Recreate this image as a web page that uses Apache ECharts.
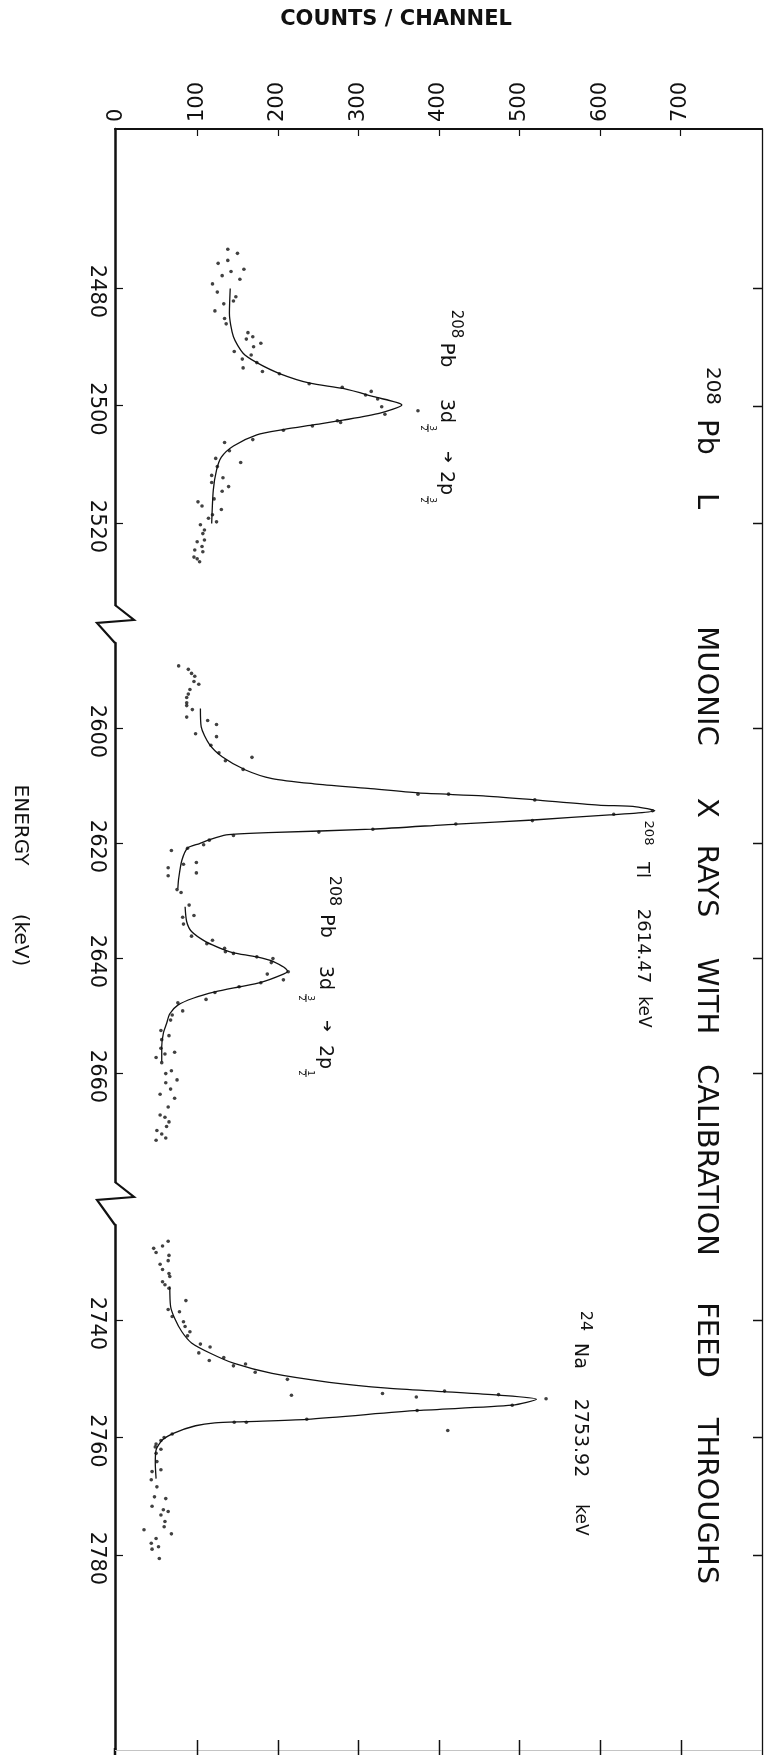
<!DOCTYPE html>
<html><head><meta charset="utf-8">
<script src="https://cdn.jsdelivr.net/npm/echarts@6/dist/echarts.min.js"></script>
<style>html,body{margin:0;padding:0;background:#fff}#c{width:764px;height:1755px}</style>
</head><body><div id="c"></div>
<script>
// ---- tick labels ----
const countTicks = [0, 100, 200, 300, 400, 500, 600, 700];
const countTickMarks = [100, 200, 300, 400, 500, 600, 700];
const energyTicks1 = [2480, 2500, 2520];
const energyTicks2 = [2600, 2620, 2640, 2660];
const energyTicks3 = [2740, 2760, 2780];

// ---- data: [energy keV, counts/channel] ----
const pb1Dots = [[2473.4,138],[2475.3,138],[2474.1,150],[2475.8,126],[2476.8,158],[2477.9,131],[2477.2,142],[2478.5,153],[2479.3,119],[2480.7,125],[2481.5,148],[2482.2,145],[2482.7,133],[2483.9,122],[2485.2,134],[2486.1,136],[2487.6,163],[2488.3,169],[2488.7,161],[2490.0,170],[2489.4,179],[2490.8,146],[2491.4,167],[2492.1,156],[2493.6,157],[2492.7,174],[2494.2,181],[2494.6,202],[2496.3,239],[2496.9,280],[2498.2,309],[2497.6,316],[2498.9,324],[2500.2,329],[2501.5,333],[2500.9,374],[2502.6,274],[2502.9,278],[2503.5,243],[2504.2,207],[2505.8,169],[2506.3,134],[2507.7,140],[2509.0,123],[2509.7,154],[2510.4,125],[2511.9,118],[2512.3,132],[2513.1,118],[2513.8,139],[2514.6,131],[2515.9,121],[2517.7,130],[2516.4,101],[2517.1,106],[2519.2,114],[2519.8,124],[2518.6,119],[2520.3,104],[2521.2,109],[2521.8,107],[2523.2,100],[2522.9,109],[2524.0,106],[2524.6,97],[2524.9,107],[2525.8,96],[2526.1,100],[2526.6,103]];
const pb1Fit = [[2480.1,141],[2484.3,140],[2488.3,145],[2491.1,157],[2492.7,174],[2494.6,203],[2496.2,240],[2497.1,281],[2498.5,319],[2499.9,354],[2501.3,327],[2502.5,281],[2503.3,244],[2504.1,207],[2505.0,174],[2506.9,145],[2508.8,130],[2511.0,124],[2514.4,120],[2520.1,118]];

const seg2Dots = [[2589.2,77],[2589.8,89],[2590.5,93],[2591.0,97],[2591.9,96],[2592.4,102],[2593.3,91],[2594.1,89],[2594.7,87],[2595.6,87],[2596.1,87],[2596.8,94],[2598.1,87],[2598.7,113],[2599.4,124],[2601.0,98],[2601.5,124],[2603.0,117],[2604.3,127],[2605.1,168],[2605.7,135],[2607.2,157],[2611.5,374],[2611.5,412],[2612.5,519],[2615.0,617],[2614.4,665],[2616.1,516],[2616.7,421],[2617.6,318],[2618.1,251],[2618.7,145],[2619.5,115],[2620.3,108],[2620.9,88],[2621.3,68],[2623.4,99],[2623.7,83],[2624.3,64],[2625.2,99],[2625.7,64],[2628.1,75],[2628.6,80],
  [2630.8,90],[2632.6,96],[2632.9,82],[2634.1,83],[2636.2,93],[2636.9,119],[2637.5,112],[2638.3,134],[2638.9,135],[2639.2,145],[2639.8,174],[2640.1,194],[2640.8,192],[2642.4,213],[2642.8,187],[2643.8,207],[2644.3,179],[2645.0,152],[2646.0,122],[2647.2,111],[2647.8,76],[2649.2,82],[2649.9,69],[2650.8,67],[2652.6,55],[2653.5,65],[2654.2,56],[2655.7,55],[2656.4,72],[2657.3,49],[2656.7,60],[2658.2,56],[2659.6,68],[2660.1,61],[2661.2,75],[2661.7,61],[2662.8,67],[2664.4,72],[2663.7,54],[2665.9,64],[2667.3,54],[2667.7,60],[2668.5,65],[2669.3,62],[2670.0,50],[2670.6,56],[2671.7,49],[2671.3,61]];
const tlFit = [[2596.6,104],[2599.8,105],[2602.8,115],[2605.0,131],[2607.3,160],[2608.8,193],[2609.7,245],[2610.5,312],[2611.3,374],[2611.8,455],[2612.5,519],[2613.4,598],[2613.7,645],[2614.4,668],[2614.8,645],[2615.1,612],[2616.0,517],[2616.7,422],[2617.6,317],[2618.2,188],[2618.6,136],[2619.6,112],[2620.1,103],[2620.9,88],[2623.0,81],[2626.2,77],[2627.9,76]];
const pb2Fit = [[2631.1,85],[2633.7,87],[2635.4,93],[2637.2,111],[2638.5,132],[2639.1,145],[2639.8,174],[2640.6,194],[2642.3,212],[2642.8,207],[2644.3,178],[2645.0,153],[2645.9,122],[2647.0,95],[2648.2,76],[2649.7,66],[2651.4,62],[2653.1,58],[2655.4,56],[2658.0,56]];

const naDots = [[2726.6,64],[2727.8,46],[2727.4,57],[2728.5,49],[2729.0,65],[2729.9,64],[2730.5,54],[2731.4,57],[2732.1,65],[2732.6,66],[2733.5,57],[2734.0,60],[2734.6,65],[2736.7,86],[2738.2,64],[2738.6,78],[2739.4,69],[2740.3,83],[2741.1,85],[2742.0,91],[2742.7,88],[2744.1,104],[2744.6,116],[2745.6,102],[2746.4,133],[2746.9,115],[2747.8,145],[2747.5,160],[2748.9,172],[2750.1,212],[2752.8,217],[2752.5,330],[2753.1,372],[2752.1,407],[2752.7,474],[2753.4,533],[2754.5,491],[2755.4,373],[2756.9,236],[2757.4,161],[2757.4,146],[2758.8,411],[2759.4,69],[2760.0,59],[2760.5,55],[2761.1,49],[2761.6,48],[2762.0,55],[2762.7,49],[2764.1,50],[2765.8,44],[2765.5,55],[2767.2,43],[2768.4,50],[2770.1,47],[2770.4,61],[2771.7,44],[2772.3,58],[2772.6,64],[2773.2,55],[2774.3,60],[2775.2,59],[2775.7,34],[2776.4,68],[2777.2,49],[2778.0,43],[2778.6,52],[2779.0,44],[2780.6,53]];
const naFit = [[2734.3,66],[2737.7,67],[2739.7,72],[2742.0,81],[2743.9,93],[2745.7,117],[2747.4,146],[2749.1,193],[2750.6,264],[2751.6,336],[2752.2,407],[2752.8,474],[2753.5,521],[2754.5,491],[2755.4,374],[2756.9,236],[2757.3,160],[2757.5,122],[2758.0,98],[2759.2,72],[2760.4,57],[2762.1,49],[2764.4,48],[2767.0,49]];

// ---- layout ----
const FONT = '"DejaVu Sans", sans-serif';
const INK = '#111';
const AX = 115;           // x of energy axis line
const XR = 762;           // x of right frame line
const XMIN = -2, XMAX = 801;
const segs = [
  {top:129,  h:476, e0:2480, y0:288,  ppk:5.875, ticks:energyTicks1},
  {top:643,  h:539, e0:2600, y0:728,  ppk:5.75,  ticks:energyTicks2},
  {top:1225, h:525, e0:2740, y0:1320, ppk:5.875, ticks:energyTicks3}
];
segs.forEach(s => { s.min = s.e0 - (s.y0 - s.top)/s.ppk; s.max = s.min + s.h/s.ppk; });

const grid = segs.map(s => ({left:AX, right:764 - XR, top:s.top, height:s.h, containLabel:false, outerBoundsMode:'none'}));
grid.push({left:AX, right:764 - XR, top:129, height:1626, containLabel:false, outerBoundsMode:'none'});

const plain = v => String(v);
const xBase = {type:'value', min:XMIN, max:XMAX, splitLine:{show:false}};
const xAxis = [
  Object.assign({}, xBase, {gridIndex:0, position:'top',
    axisLine:{show:true, lineStyle:{color:INK, width:2}},
    axisTick:{show:true, inside:true, length:7, customValues:countTickMarks, lineStyle:{color:INK, width:1.2}},
    axisLabel:{show:true, customValues:countTicks, formatter:plain, rotate:-90, fontSize:21, fontFamily:FONT, color:INK, margin:7, padding:[0,0,9,0]}}),
  Object.assign({}, xBase, {gridIndex:1, show:false}),
  Object.assign({}, xBase, {gridIndex:2, show:false}),
  {gridIndex:3, type:'value', min:0, max:1, show:false}
];
const yAxis = [];
segs.forEach((s, i) => {
  yAxis.push({gridIndex:i, type:'value', inverse:true, min:s.min, max:s.max, position:'left',
    axisLine:{show:true, onZero:false, lineStyle:{color:INK, width:2.5}},
    axisTick:{show:true, inside:true, length:8, customValues:s.ticks, lineStyle:{color:INK, width:1.2}},
    axisLabel:{show:true, customValues:s.ticks, formatter:plain, rotate:-90, fontSize:21, fontFamily:FONT, color:INK, margin:8, padding:[0,0,0,7]},
    splitLine:{show:false}});
});
yAxis.push({gridIndex:3, type:'value', min:0, max:1, position:'right',
  axisLine:{show:true, onZero:false, lineStyle:{color:INK, width:1.3}},
  axisTick:{show:false}, axisLabel:{show:false}, splitLine:{show:false}});

const toXY = arr => arr.map(p => [p[1], p[0]]);
function dots(arr, i){ return {type:'scatter', xAxisIndex:i, yAxisIndex:i, data:toXY(arr), symbolSize:3.6, itemStyle:{color:INK}, silent:true}; }
function fit(arr, i){ return {type:'line', xAxisIndex:i, yAxisIndex:i, data:toXY(arr), showSymbol:false, smooth:0.25, lineStyle:{color:INK, width:1.3}, silent:true}; }
const series = [dots(pb1Dots,0), fit(pb1Fit,0), dots(seg2Dots,1), fit(tlFit,1), fit(pb2Fit,1), dots(naDots,2), fit(naFit,2)];

// ---- text / decoration ----
function rt(text, x, y, size, extra){
  return {type:'text', x:x, y:y, rotation:-Math.PI/2, silent:true,
    style:Object.assign({text:text, fontSize:size, fontFamily:FONT, fill:INK, align:'center', verticalAlign:'middle', textAlign:'center', textVerticalAlign:'middle'}, extra||{})};
}
function frac(num, den, x, y){
  return [rt(num, x+4.5, y, 9), rt(den, x-4.5, y, 9),
    {type:'line', silent:true, shape:{x1:x, y1:y-4, x2:x, y2:y+4}, style:{stroke:INK, lineWidth:1}}];
}
function zig(yTop, yBot){
  return {type:'polyline', silent:true, shape:{points:[[AX,yTop],[AX+19,yTop+15],[AX-18,yTop+18],[AX,yBot]]},
    style:{stroke:INK, lineWidth:2.2, fill:null}};
}
function seg(x1, y1, x2, y2, color, w){
  return {type:'line', silent:true, z:100, shape:{x1, y1, x2, y2}, style:{stroke:color || INK, lineWidth:w || 1.5}};
}
const ARROW = '\u2794';
const graphic = [
  {type:'text', x:396, y:20, silent:true, style:{text:'COUNTS / CHANNEL', fontSize:21, fontWeight:'bold', fontFamily:FONT, fill:INK, align:'center', verticalAlign:'middle', textAlign:'center', textVerticalAlign:'middle'}},
  rt('ENERGY', 20, 825, 20), rt('(keV)', 20, 940, 20),
  // title
  rt('208', 712, 386, 20), rt('Pb', 706, 437, 29), rt('L', 706, 501, 29), rt('MUONIC', 706, 686, 29),
  rt('X', 706, 808, 29), rt('RAYS', 706, 881, 29), rt('WITH', 706, 996, 29), rt('CALIBRATION', 706, 1160, 29),
  rt('FEED', 706, 1340, 29), rt('THROUGHS', 706, 1501, 29),
  // label 1
  rt('208', 456, 324, 15), rt('Pb', 446, 355, 20), rt('3d', 446, 411, 19), ...frac('3','2',428,428),
  rt(ARROW, 448, 457, 14), rt('2p', 446, 483, 19), ...frac('3','2',428,500),
  // label 2
  rt('208', 334, 891, 16), rt('Pb', 326, 926, 19), rt('3d', 325, 978, 19), ...frac('3','2',306,998),
  rt(ARROW, 327, 1026, 14), rt('2p', 325, 1057, 19), ...frac('1','2',306,1073),
  // Tl label
  rt('208', 648, 833, 13), rt('Tl', 642, 870, 18), rt('2614.47', 643, 946, 18), rt('keV', 643, 1012, 17),
  // Na label
  rt('24', 585, 1321, 16), rt('Na', 580, 1356, 19), rt('2753.92', 580, 1438, 19), rt('keV', 580, 1520, 17),
  zig(605, 643), zig(1182, 1225),
  seg(AX, 1748, AX, 1755, INK, 2.5)
];

// right-frame tick marks (same linear scale as each energy axis)
segs.forEach(s => {
  s.ticks.forEach(e => {
    const py = Math.round(s.top + (e - s.min) * s.h / (s.max - s.min)) + 0.5;
    graphic.push(seg(XR - 9, py, XR, py));
  });
});
// bottom tick marks (same linear scale as the counts axis)
const yBottom = segs[2].top + segs[2].h;
graphic.push(seg(AX, yBottom + 0.5, XR, yBottom + 0.5, '#c4c4c4', 1));
countTickMarks.forEach(c => {
  const px = Math.round(AX + (c - XMIN) * (XR - AX) / (XMAX - XMIN)) + 0.5;
  graphic.push(seg(px, yBottom - 10, px, 1755));
});

const chart = echarts.init(document.getElementById('c'), null, {renderer:'canvas'});
chart.setOption({animation:false, backgroundColor:'#fff', grid, xAxis, yAxis, series, graphic});
</script></body></html>
